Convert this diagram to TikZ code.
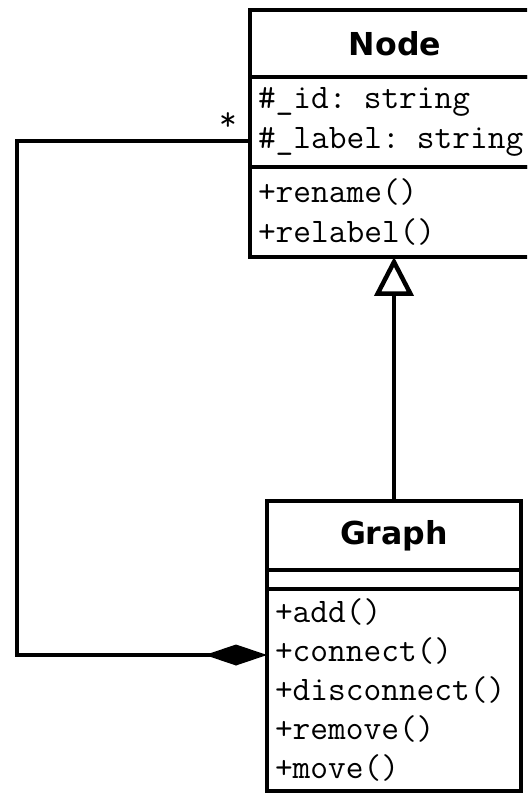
\documentclass[tikz,border=0pt]{standalone}
\usepackage{fontspec}
\usepackage{tikz}
\usetikzlibrary{positioning,arrows.meta}
\newfontfamily\classfont{DejaVu Sans}

\tikzset{
  classname/.style={draw,line width=2.25pt,outer sep=0pt,rectangle,font=\classfont\bfseries\fontsize{15.8}{19}\selectfont},
  part/.style={draw,line width=2.25pt,outer sep=0pt,rectangle,inner xsep=4pt,inner ysep=0pt,align=left,font=\ttfamily\fontsize{17.2}{19.6}\selectfont},
  link/.style={line width=2.25pt},
}

\begin{document}
\begin{tikzpicture}[x=0.5pt,y=-0.5pt]
\path[use as bounding box] (0,0) rectangle (527,795);
\clip (0,0) rectangle (527,795);

% Node class
\node[classname,minimum width=145pt,minimum height=33.5pt] (nodeTitle) at (395,43.5) {Node};
\node[part,text width=137pt,minimum height=45pt,below=0pt of nodeTitle] (nodeAttr) {\#\_id: string\\\#\_label: string};
\node[part,text width=137pt,minimum height=45pt,below=0pt of nodeAttr] (nodeOps) {+rename()\\+relabel()};

% Graph class
\node[classname,minimum width=127pt,minimum height=34.5pt] (graphTitle) at (394,535.5) {Graph};
\node[part,text width=119pt,minimum height=9.5pt,below=0pt of graphTitle] (graphAttr) {};
\node[part,text width=119pt,minimum height=101pt,below=0pt of graphAttr] (graphOps) {+add()\\+connect()\\+disconnect()\\+remove()\\+move()};

% Generalization
\draw[link,-{Triangle[open,length=19.5pt,width=19.5pt]}] (graphTitle.north) -- (graphTitle.north |- nodeOps.south);

% Composition
\coordinate (wholePin) at (graphOps.west |- 0,655);
\coordinate (partPin) at (nodeAttr.west |- 0,141);
\coordinate (loop) at (17,400);
\draw[link,{Diamond[length=31pt,width=10.5pt]}-] (wholePin) -| (loop) |- (partPin);
\node[font=\ttfamily\fontsize{17.2}{19.6}\selectfont] (many) at (228,122) {*};
\end{tikzpicture}
\end{document}
